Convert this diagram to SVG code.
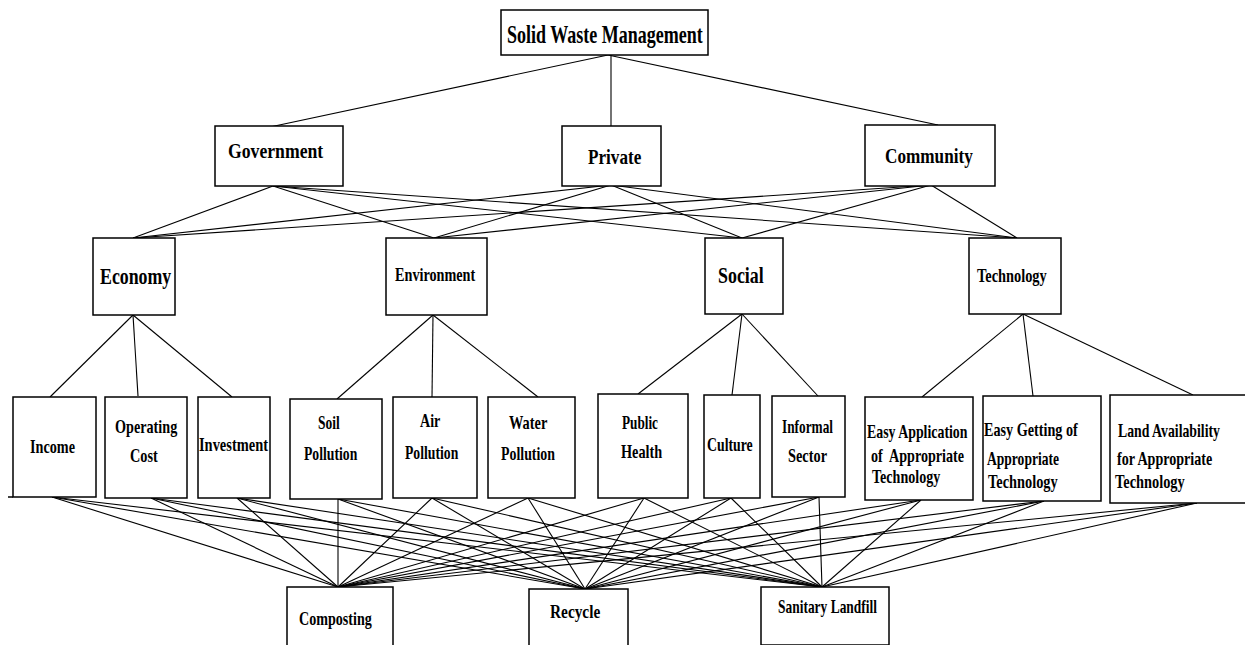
<svg xmlns="http://www.w3.org/2000/svg" width="1245" height="645" viewBox="0 0 1245 645">
<style>
.box{fill:#fff;stroke:#000;stroke-width:1.5}
.t{font-family:"Liberation Serif","Times New Roman",serif;font-weight:bold;fill:#000}
.s25{font-size:25px}.s22{font-size:22px}.s24{font-size:24px}.s19{font-size:19px}.s18{font-size:18px}
#connectors line{stroke:#000;stroke-width:1.1}
</style>
<rect width="1245" height="645" fill="#fff"/>
<g id="connectors">
<line x1="608" y1="55" x2="270" y2="127"/>
<line x1="611" y1="55" x2="611" y2="126"/>
<line x1="608" y1="55" x2="938" y2="125"/>
<line x1="273" y1="186" x2="133" y2="238"/>
<line x1="273" y1="186" x2="434" y2="238"/>
<line x1="273" y1="186" x2="742" y2="238"/>
<line x1="273" y1="186" x2="1017" y2="238"/>
<line x1="611" y1="185" x2="133" y2="238"/>
<line x1="611" y1="185" x2="434" y2="238"/>
<line x1="611" y1="185" x2="742" y2="238"/>
<line x1="611" y1="185" x2="1017" y2="238"/>
<line x1="931" y1="185" x2="133" y2="238"/>
<line x1="931" y1="185" x2="434" y2="238"/>
<line x1="931" y1="185" x2="742" y2="238"/>
<line x1="931" y1="185" x2="1017" y2="238"/>
<line x1="133" y1="315" x2="50" y2="397"/>
<line x1="133" y1="315" x2="138" y2="396"/>
<line x1="133" y1="315" x2="232" y2="397"/>
<line x1="433" y1="315" x2="337" y2="399"/>
<line x1="433" y1="315" x2="432" y2="397"/>
<line x1="433" y1="315" x2="538" y2="397"/>
<line x1="742" y1="314" x2="638" y2="394"/>
<line x1="742" y1="314" x2="732" y2="395"/>
<line x1="742" y1="314" x2="818" y2="396"/>
<line x1="1023" y1="314" x2="922" y2="397"/>
<line x1="1023" y1="314" x2="1033" y2="396"/>
<line x1="1023" y1="314" x2="1193" y2="395"/>
<line x1="52" y1="497" x2="338" y2="587"/><line x1="52" y1="497" x2="585" y2="589"/><line x1="52" y1="497" x2="822" y2="587"/>
<line x1="151" y1="498" x2="338" y2="587"/><line x1="151" y1="498" x2="585" y2="589"/><line x1="151" y1="498" x2="822" y2="587"/>
<line x1="237" y1="498" x2="338" y2="587"/><line x1="237" y1="498" x2="585" y2="589"/><line x1="237" y1="498" x2="822" y2="587"/>
<line x1="338" y1="499" x2="338" y2="587"/><line x1="338" y1="499" x2="585" y2="589"/><line x1="338" y1="499" x2="822" y2="587"/>
<line x1="432" y1="498" x2="338" y2="587"/><line x1="432" y1="498" x2="585" y2="589"/><line x1="432" y1="498" x2="822" y2="587"/>
<line x1="528" y1="498" x2="338" y2="587"/><line x1="528" y1="498" x2="585" y2="589"/><line x1="528" y1="498" x2="822" y2="587"/>
<line x1="644" y1="498" x2="338" y2="587"/><line x1="644" y1="498" x2="585" y2="589"/><line x1="644" y1="498" x2="822" y2="587"/>
<line x1="731" y1="498" x2="338" y2="587"/><line x1="731" y1="498" x2="585" y2="589"/><line x1="731" y1="498" x2="822" y2="587"/>
<line x1="819" y1="497" x2="338" y2="587"/><line x1="819" y1="497" x2="585" y2="589"/><line x1="819" y1="497" x2="822" y2="587"/>
<line x1="921" y1="500" x2="338" y2="587"/><line x1="921" y1="500" x2="585" y2="589"/><line x1="921" y1="500" x2="822" y2="587"/>
<line x1="1044" y1="501" x2="338" y2="587"/><line x1="1044" y1="501" x2="585" y2="589"/><line x1="1044" y1="501" x2="822" y2="587"/>
<line x1="1197" y1="503" x2="338" y2="587"/><line x1="1197" y1="503" x2="585" y2="589"/><line x1="1197" y1="503" x2="822" y2="587"/>
</g>

<g id="goal"><rect class="box" x="501" y="10" width="207" height="45"/><text class="t s25" transform="translate(507,43) scale(0.75,1)" textLength="261" lengthAdjust="spacingAndGlyphs">Solid Waste Management</text></g>

<g id="government"><rect class="box" x="215" y="126" width="128" height="60"/><text class="t s22" transform="translate(228,158) scale(0.75,1)" textLength="127" lengthAdjust="spacingAndGlyphs">Government</text></g>
<g id="private"><rect class="box" x="562" y="126" width="99" height="60"/><text class="t s22" transform="translate(588,164) scale(0.75,1)" textLength="71" lengthAdjust="spacingAndGlyphs">Private</text></g>
<g id="community"><rect class="box" x="865" y="125" width="130" height="61"/><text class="t s22" transform="translate(885,163) scale(0.75,1)" textLength="117" lengthAdjust="spacingAndGlyphs">Community</text></g>

<g id="economy"><rect class="box" x="93" y="238" width="82" height="77"/><text class="t s24" transform="translate(100,284) scale(0.75,1)" textLength="95" lengthAdjust="spacingAndGlyphs">Economy</text></g>
<g id="environment"><rect class="box" x="386" y="238" width="101" height="77"/><text class="t s19" transform="translate(395,281) scale(0.75,1)" textLength="107" lengthAdjust="spacingAndGlyphs">Environment</text></g>
<g id="social"><rect class="box" x="705" y="238" width="78" height="76"/><text class="t s24" transform="translate(718,283) scale(0.75,1)" textLength="61" lengthAdjust="spacingAndGlyphs">Social</text></g>
<g id="technology"><rect class="box" x="969" y="238" width="92" height="76"/><text class="t s19" transform="translate(977,282) scale(0.75,1)" textLength="93" lengthAdjust="spacingAndGlyphs">Technology</text></g>

<g id="income"><rect class="box" x="13" y="397" width="83" height="100"/><line x1="8" y1="497" x2="13" y2="497" stroke="#000" stroke-width="1.5"/><text class="t s19" transform="translate(30,453) scale(0.75,1)" textLength="60" lengthAdjust="spacingAndGlyphs">Income</text></g>
<g id="operating-cost"><rect class="box" x="105" y="397" width="82" height="101"/><text class="t s19" transform="translate(115,433) scale(0.75,1)" textLength="83" lengthAdjust="spacingAndGlyphs">Operating</text><text class="t s19" transform="translate(130,462) scale(0.75,1)" textLength="37" lengthAdjust="spacingAndGlyphs">Cost</text></g>
<g id="investment"><rect class="box" x="198" y="397" width="72" height="101"/><text class="t s19" transform="translate(199,451) scale(0.75,1)" textLength="92" lengthAdjust="spacingAndGlyphs">Investment</text></g>
<g id="soil-pollution"><rect class="box" x="290" y="399" width="92" height="100"/><text class="t s19" transform="translate(318,429) scale(0.75,1)" textLength="29" lengthAdjust="spacingAndGlyphs">Soil</text><text class="t s19" transform="translate(304,460) scale(0.75,1)" textLength="71" lengthAdjust="spacingAndGlyphs">Pollution</text></g>
<g id="air-pollution"><rect class="box" x="393" y="397" width="84" height="101"/><text class="t s19" transform="translate(420,427) scale(0.75,1)" textLength="27" lengthAdjust="spacingAndGlyphs">Air</text><text class="t s19" transform="translate(405,459) scale(0.75,1)" textLength="71" lengthAdjust="spacingAndGlyphs">Pollution</text></g>
<g id="water-pollution"><rect class="box" x="488" y="397" width="87" height="101"/><text class="t s19" transform="translate(509,429) scale(0.75,1)" textLength="51" lengthAdjust="spacingAndGlyphs">Water</text><text class="t s19" transform="translate(501,460) scale(0.75,1)" textLength="72" lengthAdjust="spacingAndGlyphs">Pollution</text></g>
<g id="public-health"><rect class="box" x="598" y="394" width="90" height="104"/><text class="t s19" transform="translate(622,429) scale(0.75,1)" textLength="48" lengthAdjust="spacingAndGlyphs">Public</text><text class="t s19" transform="translate(621,458) scale(0.75,1)" textLength="55" lengthAdjust="spacingAndGlyphs">Health</text></g>
<g id="culture"><rect class="box" x="704" y="395" width="56" height="103"/><text class="t s19" transform="translate(707,451) scale(0.75,1)" textLength="61" lengthAdjust="spacingAndGlyphs">Culture</text></g>
<g id="informal-sector"><rect class="box" x="772" y="396" width="73" height="101"/><text class="t s19" transform="translate(782,433) scale(0.75,1)" textLength="68" lengthAdjust="spacingAndGlyphs">Informal</text><text class="t s19" transform="translate(788,462) scale(0.75,1)" textLength="52" lengthAdjust="spacingAndGlyphs">Sector</text></g>
<g id="easy-application"><rect class="box" x="865" y="397" width="108" height="103"/><text class="t s19" transform="translate(867,438) scale(0.75,1)" textLength="134" lengthAdjust="spacingAndGlyphs">Easy Application</text><text class="t s19" transform="translate(871,462) scale(0.75,1)" textLength="124" lengthAdjust="spacingAndGlyphs" style="white-space:pre">of  Appropriate</text><text class="t s19" transform="translate(872,483) scale(0.75,1)" textLength="91" lengthAdjust="spacingAndGlyphs">Technology</text></g>
<g id="easy-getting"><rect class="box" x="983" y="396" width="118" height="105"/><text class="t s19" transform="translate(984,436) scale(0.75,1)" textLength="125" lengthAdjust="spacingAndGlyphs">Easy Getting of</text><text class="t s19" transform="translate(987,465) scale(0.75,1)" textLength="96" lengthAdjust="spacingAndGlyphs">Appropriate</text><text class="t s19" transform="translate(988,488) scale(0.75,1)" textLength="93" lengthAdjust="spacingAndGlyphs">Technology</text></g>
<g id="land-availability"><rect class="box" x="1110" y="395" width="140" height="108"/><text class="t s19" transform="translate(1118,437) scale(0.75,1)" textLength="136" lengthAdjust="spacingAndGlyphs">Land Availability</text><text class="t s19" transform="translate(1117,465) scale(0.75,1)" textLength="127" lengthAdjust="spacingAndGlyphs">for Appropriate</text><text class="t s19" transform="translate(1115,488) scale(0.75,1)" textLength="93" lengthAdjust="spacingAndGlyphs">Technology</text></g>

<g id="composting"><rect class="box" x="287" y="587" width="106" height="60"/><text class="t s19" transform="translate(299,625) scale(0.75,1)" textLength="97" lengthAdjust="spacingAndGlyphs">Composting</text></g>
<g id="recycle"><rect class="box" x="529" y="589" width="99" height="60"/><text class="t s19" transform="translate(550,618) scale(0.75,1)" textLength="67" lengthAdjust="spacingAndGlyphs">Recycle</text></g>
<g id="sanitary-landfill"><rect class="box" x="761" y="587" width="128" height="58"/><text class="t s18" transform="translate(778,613) scale(0.75,1)" textLength="132" lengthAdjust="spacingAndGlyphs">Sanitary Landfill</text></g>
</svg>
